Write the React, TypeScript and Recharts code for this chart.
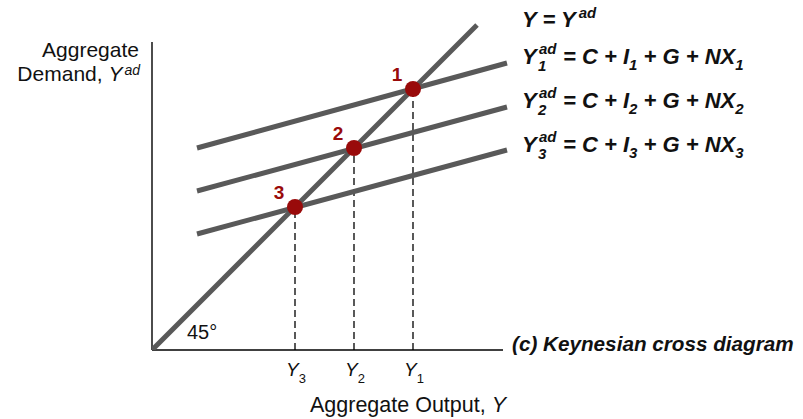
import React from "react";
import {
  ComposedChart,
  Line,
  Scatter,
  XAxis,
  YAxis,
  ReferenceLine,
} from "recharts";

// data units: 1 unit ~ 1px, origin at the corner of the axes
const diagonal = [
  { x: 0, y: 0 },
  { x: 325, y: 325 },
];
const adEnds = [45, 355];
const ad1 = [202, 287];
const ad2 = [159, 243];
const ad3 = [116, 200];
const equilibria = [
  { x: 261, y: 261, label: "1" },
  { x: 202, y: 202, label: "2" },
  { x: 143, y: 143, label: "3" },
];
const xTicks = [143, 202, 261];
const xTickSubs = ["3", "2", "1"];
const yAxisTop = 308;
const xAxisEnd = 351;

const toLine = (ys: number[]) => adEnds.map((x, i) => ({ x, y: ys[i] }));

const FONT = "'Liberation Sans', Arial, Helvetica, sans-serif";
const GRAY = "#595959";
const RED = "#990a0a";

const Dot = (props: any) => {
  const { cx, cy, payload } = props;
  return (
    <g>
      <circle cx={cx} cy={cy} r={8} fill={RED} />
      <text
        x={cx - 16}
        y={cy - 8}
        textAnchor="middle"
        fontFamily={FONT}
        fontWeight="bold"
        fontSize={19}
        fill={RED}
      >
        {payload.label}
      </text>
    </g>
  );
};

const Tick = (props: any) => {
  const { x, payload } = props;
  const i = xTicks.indexOf(payload.value);
  return (
    <text x={x + 1} y={376} textAnchor="middle" fontFamily={FONT} fontSize={19} fill="#111">
      <tspan fontStyle="italic">Y</tspan>
      <tspan dy={7} fontSize={13}>
        {xTickSubs[i]}
      </tspan>
    </text>
  );
};

const Equation = ({ n, y }: { n: string; y: number }) => (
  <text x={522} y={y} fontFamily={FONT} fontWeight="bold" fontStyle="italic" fontSize={22} fill="#111">
    Y
    <tspan x={539} dy={-10} fontSize={15}>
      ad
    </tspan>
    <tspan x={538} dy={17} fontSize={15}>
      {n}
    </tspan>
    <tspan x={563} dy={-7}>
      = C + I
    </tspan>
    <tspan dy={6} fontSize={15}>
      {n}
    </tspan>
    <tspan dy={-6}> + G + NX</tspan>
    <tspan dy={6} fontSize={15}>
      {n}
    </tspan>
  </text>
);

export default function App() {
  return (
    <div style={{ position: "absolute", left: 0, top: 0, width: 803, height: 419, background: "#fff" }}>
      <ComposedChart
        width={803}
        height={419}
        margin={{ top: 20, right: 291, bottom: 39, left: 152 }}
      >
        <XAxis
          dataKey="x"
          type="number"
          domain={[0, 360]}
          ticks={xTicks}
          tick={<Tick />}
          axisLine={false}
          tickLine={false}
          height={30}
          allowDataOverflow
        />
        <YAxis dataKey="y" type="number" domain={[0, 330]} hide allowDataOverflow />
        {equilibria.map((p) => (
          <ReferenceLine
            key={p.label}
            segment={[
              { x: p.x, y: 0 },
              { x: p.x, y: p.y },
            ]}
            stroke="#000"
            strokeWidth={1.3}
            strokeDasharray="7 4"
          />
        ))}
        <ReferenceLine
          segment={[
            { x: 0, y: 0 },
            { x: 0, y: yAxisTop },
          ]}
          stroke="#000"
          strokeWidth={1.4}
        />
        <ReferenceLine
          segment={[
            { x: 0, y: 0 },
            { x: xAxisEnd, y: 0 },
          ]}
          stroke="#000"
          strokeWidth={1.4}
        />
        <Line data={diagonal} dataKey="y" stroke={GRAY} strokeWidth={5} dot={false} isAnimationActive={false} />
        <Line data={toLine(ad1)} dataKey="y" stroke={GRAY} strokeWidth={5} dot={false} isAnimationActive={false} />
        <Line data={toLine(ad2)} dataKey="y" stroke={GRAY} strokeWidth={5} dot={false} isAnimationActive={false} />
        <Line data={toLine(ad3)} dataKey="y" stroke={GRAY} strokeWidth={5} dot={false} isAnimationActive={false} />
        <Scatter data={equilibria} dataKey="y" shape={<Dot />} isAnimationActive={false} />
      </ComposedChart>

      <svg
        width={803}
        height={419}
        style={{ position: "absolute", left: 0, top: 0, pointerEvents: "none" }}
      >
        <text x={139} y={57} textAnchor="end" fontFamily={FONT} fontSize={21} fill="#111">
          Aggregate
        </text>
        <text x={140} y={81} textAnchor="end" fontFamily={FONT} fontSize={21} fill="#111">
          Demand, <tspan fontStyle="italic">Y</tspan>
          <tspan fontStyle="italic" fontSize={14} dy={-6} dx={2}>
            ad
          </tspan>
        </text>
        <text x={310} y={412} fontFamily={FONT} fontSize={21.5} fill="#111">
          Aggregate Output, <tspan fontStyle="italic">Y</tspan>
        </text>
        <text x={187} y={339} fontFamily={FONT} fontSize={20} fill="#111">
          45°
        </text>
        <text x={512} y={351} fontFamily={FONT} fontWeight="bold" fontStyle="italic" fontSize={20.7} fill="#111">
          (c) Keynesian cross diagram
        </text>
        <text x={522} y={27} fontFamily={FONT} fontWeight="bold" fontStyle="italic" fontSize={22} fill="#111">
          Y = Y
          <tspan dx={3} dy={-9} fontSize={15}>
            ad
          </tspan>
        </text>
        <Equation n="1" y={64} />
        <Equation n="2" y={108} />
        <Equation n="3" y={152} />
      </svg>
    </div>
  );
}
